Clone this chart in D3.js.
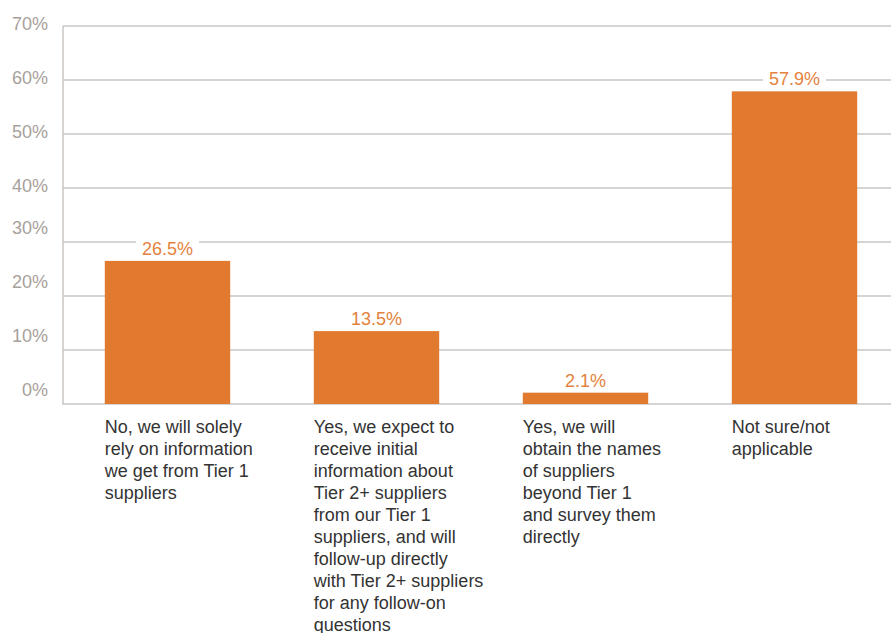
<!DOCTYPE html>
<html>
<head>
<meta charset="utf-8">
<script src="https://cdn.jsdelivr.net/npm/d3@7"></script>
<style>
  html, body { margin: 0; padding: 0; background: #fff; }
  svg { display: block; font-family: "Liberation Sans", Arial, Helvetica, sans-serif; }
</style>
</head>
<body>
<svg id="chart" width="891" height="633"></svg>
<script>
// Survey answers (wrapped category text, one entry per line)
const categories = [
  ["No, we will solely", "rely on information", "we get from Tier 1", "suppliers"],
  ["Yes, we expect to", "receive initial", "information about", "Tier 2+ suppliers",
   "from our Tier 1", "suppliers, and will", "follow-up directly",
   "with Tier 2+ suppliers", "for any follow-on", "questions"],
  ["Yes, we will", "obtain the names", "of suppliers", "beyond Tier 1",
   "and survey them", "directly"],
  ["Not sure/not", "applicable"]
];
const values = [26.5, 13.5, 2.1, 57.9];
const yTicks = [0, 10, 20, 30, 40, 50, 60, 70];

(function () {
const svg = d3.select("#chart");
const W = 891;
const plotLeft = 63, plotRight = 899, plotTop = 26, plotBottom = 404;

const barColor = "#e17a2f";
const labelColor = "#e3823d";
const gridColor = "#cac6c2";
const tickColor = "#a7a19b";
const textColor = "#333333";

const x = d3.scaleBand()
  .domain(d3.range(values.length))
  .range([plotLeft, plotRight])
  .paddingInner(0.4)
  .paddingOuter(0.2);

const y = d3.scaleLinear().domain([0, 70]).range([plotBottom, plotTop]);

// Horizontal gridlines
svg.append("g")
  .selectAll("line")
  .data(yTicks)
  .join("line")
  .attr("x1", plotLeft).attr("x2", W)
  .attr("y1", d => y(d)).attr("y2", d => y(d))
  .attr("stroke", gridColor)
  .attr("stroke-width", 1.5);

// Vertical axis line
svg.append("line")
  .attr("x1", plotLeft).attr("x2", plotLeft)
  .attr("y1", y(70)).attr("y2", y(0) + 0.75)
  .attr("stroke", gridColor)
  .attr("stroke-width", 1.5);

// Y tick labels (lower ones sit a little higher above their lines)
svg.append("g")
  .selectAll("text")
  .data(yTicks)
  .join("text")
  .attr("x", 48)
  .attr("y", d => y(d) + (d <= 30 ? -14 : -2))
  .attr("dy", "0.35em")
  .attr("text-anchor", "end")
  .attr("fill", tickColor)
  .attr("font-size", 18)
  .text(d => d + "%");

// Bars
svg.append("g")
  .selectAll("rect")
  .data(values)
  .join("rect")
  .attr("x", (d, i) => x(i))
  .attr("y", d => y(d))
  .attr("width", x.bandwidth())
  .attr("height", d => y(0) - y(d))
  .attr("fill", barColor);

// Value labels with a white backing that breaks the gridlines
const vl = svg.append("g")
  .selectAll("g")
  .data(values)
  .join("g")
  .attr("transform", (d, i) => `translate(${x(i) + x.bandwidth() / 2},${y(d) - 6})`);

vl.append("text")
  .attr("text-anchor", "middle")
  .attr("fill", labelColor)
  .attr("font-size", 18)
  .text(d => d.toFixed(1) + "%");

vl.each(function () {
  const g = d3.select(this);
  const bb = g.select("text").node().getBBox();
  g.insert("rect", "text")
    .attr("x", bb.x - 6)
    .attr("y", bb.y)
    .attr("width", bb.width + 12)
    .attr("height", bb.height)
    .attr("fill", "#fff");
});

// Category labels under each bar
const cl = svg.append("g")
  .selectAll("text")
  .data(categories)
  .join("text")
  .attr("x", (d, i) => x(i))
  .attr("y", 433)
  .attr("fill", textColor)
  .attr("font-size", 18);

cl.selectAll("tspan")
  .data(d => d)
  .join("tspan")
  .attr("x", function () { return d3.select(this.parentNode).attr("x"); })
  .attr("dy", (d, i) => i === 0 ? 0 : 22)
  .text(d => d);
})();
</script>
</body>
</html>
